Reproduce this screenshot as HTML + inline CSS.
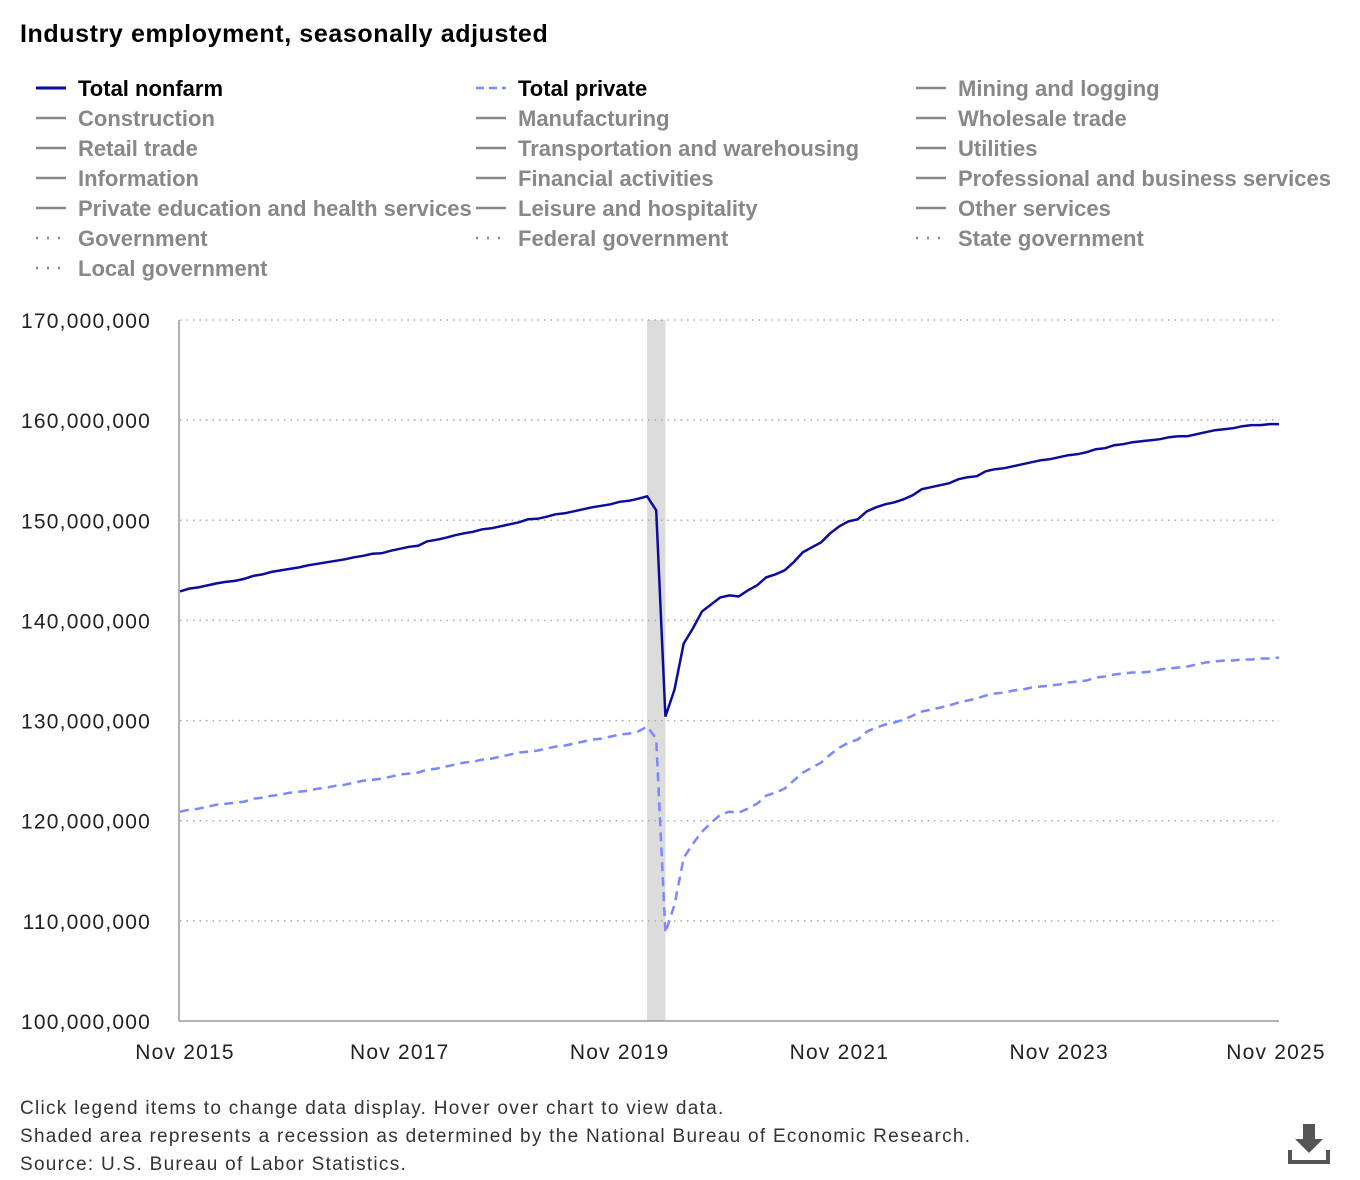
<!DOCTYPE html>
<html><head><meta charset="utf-8"><style>
html,body{margin:0;padding:0;background:#fff;}
svg{display:block;font-family:"Liberation Sans",Arial,sans-serif;}
</style></head><body>
<svg id="chart" width="1360" height="1180" viewBox="0 0 1360 1180">
<text x="20" y="42" font-size="25" font-weight="bold" fill="#000" letter-spacing="0.6">Industry employment, seasonally adjusted</text>
<g id="legend"></g>
<g id="plot"></g>
<g font-size="19" fill="#333" letter-spacing="1.28">
<text x="20" y="1114">Click legend items to change data display. Hover over chart to view data.</text>
<text x="20" y="1142">Shaded area represents a recession as determined by the National Bureau of Economic Research.</text>
<text x="20" y="1170">Source: U.S. Bureau of Labor Statistics.</text>
</g>
<g fill="#555">
<rect x="1303" y="1124" width="12" height="16"/>
<polygon points="1295,1139 1323,1139 1309,1153"/>
<rect x="1288" y="1150" width="4" height="14"/>
<rect x="1326" y="1150" width="4" height="14"/>
<rect x="1288" y="1160" width="42" height="4"/>
</g>
</svg>
<script>
const legendLabels = ["Total nonfarm","Total private","Mining and logging","Construction","Manufacturing","Wholesale trade","Retail trade","Transportation and warehousing","Utilities","Information","Financial activities","Professional and business services","Private education and health services","Leisure and hospitality","Other services","Government","Federal government","State government","Local government"];
const legendStyles = ["navy","dash","solid","solid","solid","solid","solid","solid","solid","solid","solid","solid","solid","solid","solid","dot","dot","dot","dot"];
const yTicks = [100000,110000,120000,130000,140000,150000,160000,170000];
const xTickLabels = ["Nov 2015","Nov 2017","Nov 2019","Nov 2021","Nov 2023","Nov 2025"];
const xTickMonths = [0,24,48,72,96,120];
const recession = [51,53];
const totalNonfarm = [142900,143180,
143300,143500,143700,143850,143950,144150,144450,144600,144850,145000,145150,145300,
145500,145650,145800,145950,146100,146300,146450,146650,146700,146950,147150,147350,
147450,147900,148050,148250,148500,148700,148850,149100,149200,149400,149600,149800,
150100,150150,150350,150600,150700,150900,151100,151300,151450,151600,151850,151950,
152150,152400,151000,130400,133100,137700,139200,140900,141600,142300,142500,142400,
143000,143500,144300,144600,145000,145800,146800,147300,147800,148700,149400,149900,
150100,150900,151300,151600,151800,152100,152500,153100,153300,153500,153700,154100,
154300,154400,154900,155100,155200,155400,155600,155800,156000,156100,156300,156500,
156600,156800,157100,157200,157500,157600,157800,157900,158000,158100,158300,158400,
158400,158600,158800,159000,159100,159200,159400,159500,159500,159600,159600];
const totalPrivate = [120900,121100,
121200,121400,121600,121700,121800,121900,122200,122300,122500,122600,122800,122900,
123000,123200,123300,123500,123600,123800,124000,124100,124200,124400,124600,124700,
124800,125100,125200,125400,125600,125800,125900,126100,126200,126400,126600,126800,
126900,127000,127200,127400,127500,127700,127900,128100,128200,128400,128600,128700,
128900,129400,128200,108800,111600,116300,117700,118900,119800,120600,120900,120800,
121200,121700,122500,122800,123200,124000,124800,125300,125800,126600,127300,127800,
128100,128900,129300,129600,129800,130100,130500,130900,131100,131300,131500,131800,
132000,132200,132500,132700,132800,133000,133100,133300,133400,133500,133600,133800,
133900,134000,134300,134400,134600,134700,134800,134800,134900,135100,135200,135300,
135400,135600,135800,135900,136000,136000,136100,136100,136200,136200,136300];

const NS="http://www.w3.org/2000/svg";
function mk(tag, attrs, parent){const e=document.createElementNS(NS,tag);for(const k in attrs)e.setAttribute(k,attrs[k]);parent.appendChild(e);return e;}
const X0=180,X1=1279,Y0=1021,Y1=320;
const xs=m=>X0+(m/120)*(X1-X0);
const ys=v=>Y0-(v-100000)/70000*(Y0-Y1);
const fmt=v=>(v*1000).toLocaleString("en-US");

const lg=document.getElementById("legend");
legendLabels.forEach((lab,i)=>{
  const col=i%3,row=Math.floor(i/3);
  const x=36+col*440,y=88+row*30;
  const g=mk("g",{},lg);
  
  
  const st=legendStyles[i];
  const color=st==="navy"?"#0c0c9c":st==="dash"?"#7b88ff":"#888";
  const attrs={x1:x,x2:x+30,y1:y,y2:y,stroke:color,"stroke-width":st==="navy"?3:2.5};
  if(st==="dash")attrs["stroke-dasharray"]="8,5";
  if(st==="dot")attrs["stroke-dasharray"]="2,9";
  mk("line",attrs,g);
  const t=mk("text",{x:x+42,y:y+8,"font-size":"22","font-weight":"bold",fill:i<2?"#000":"#888"},g);
  t.textContent=lab;
});

const p=document.getElementById("plot");
const rr=mk("rect",{x:xs(recession[0]),y:Y1,width:xs(recession[1])-xs(recession[0]),height:Y0-Y1,fill:"#dcdcdc"},p);


yTicks.forEach(v=>{
  const y=ys(v);
  if(v>100000){const gl=mk("line",{x1:X0,x2:X1,y1:y,y2:y,stroke:"#aaa","stroke-width":1.5,"stroke-dasharray":"1.5,5"},p);
  
  }
  const t=mk("text",{x:151,y:y+8,"font-size":"21","text-anchor":"end",fill:"#222","letter-spacing":"1.2"},p);
  
  
  t.textContent=fmt(v);
});
const ya=mk("line",{x1:179,x2:179,y1:Y1,y2:Y0,stroke:"#999","stroke-width":1.5},p);


const xa=mk("line",{x1:179,x2:X1,y1:Y0,y2:Y0,stroke:"#999","stroke-width":1.5},p);


xTickLabels.forEach((lab,i)=>{
  const x=xs(xTickMonths[i]);
  const t=mk("text",{x:x+(i===0?5:i===5?-3:0),y:1059,"font-size":"21","text-anchor":"middle",fill:"#222","letter-spacing":"1.2"},p);
  
  
  t.textContent=lab;
});
function path(arr){return arr.map((v,i)=>(i?"L":"M")+xs(i).toFixed(1)+","+ys(v).toFixed(1)).join("");}
const lp=mk("path",{d:path(totalPrivate),fill:"none",stroke:"#7b88ff","stroke-width":2.5,"stroke-dasharray":"9,6"},p);


const ln=mk("path",{d:path(totalNonfarm),fill:"none",stroke:"#0c0c9c","stroke-width":2.5},p);


</script>
</body></html>
